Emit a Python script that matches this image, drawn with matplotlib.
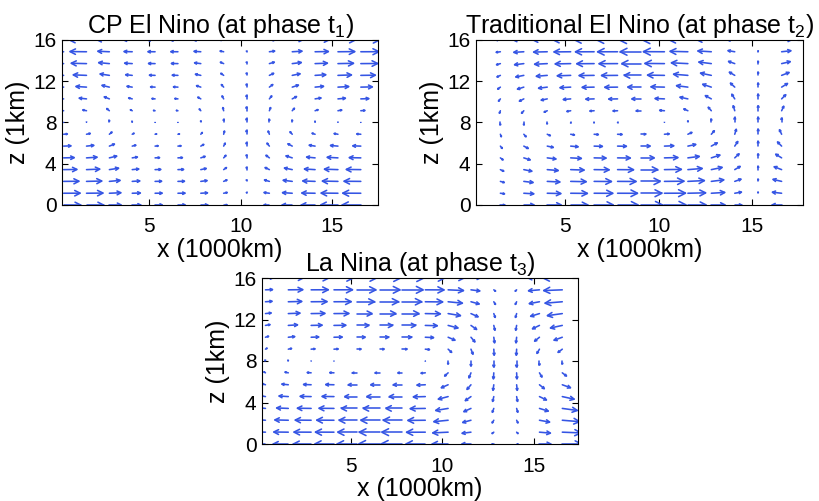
"""
three quiver panels: vertical overturning cells for CP El Nino,
traditional El Nino and La Nina
"""

import numpy as np
import matplotlib
matplotlib.use("Agg")
import matplotlib.pyplot as plt
from matplotlib.collections import LineCollection

plt.rcParams['font.family'] = ['Liberation Sans', 'DejaVu Sans']
plt.rcParams['mathtext.fontset'] = 'custom'
plt.rcParams['mathtext.rm'] = 'Liberation Sans'
plt.rcParams['mathtext.it'] = 'Liberation Sans'

# grid of arrow tails
x_cols = [0.31, 1.56, 2.81, 4.06, 5.31, 6.56, 7.81, 9.06, 10.31, 11.56, 12.81, 14.06, 15.31, 16.56]
z_rows = [0.0, 1.14, 2.29, 3.43, 4.57, 5.71, 6.86, 8.0, 9.14, 10.29, 11.43, 12.57, 13.71, 14.86, 16.0]

# vertical structure (u changes sign at mid level, w peaks there)
u_profile = [1.0, 0.97, 0.9, 0.78, 0.62, 0.43, 0.22, 0.0, -0.22, -0.43, -0.62, -0.78, -0.9, -0.97, -1.0]
w_profile = [0.0, 0.22, 0.43, 0.62, 0.78, 0.9, 0.97, 1.0, 0.97, 0.9, 0.78, 0.62, 0.43, 0.22, 0.0]

# surface u amplitude and mid-level w amplitude for each column
cp_u = [0.93, 0.93, 0.65, 0.46, 0.4, 0.4, 0.38, 0.2, 0.0, -0.3, -0.55, -0.75, -0.95, -1.02]
cp_w = [0.03, 0.08, 0.22, 0.1, 0.03, 0.03, 0.18, 0.32, 0.4, 0.32, 0.25, 0.1, 0.07, 0.03]

trad_u = [0.0, 0.23, 0.55, 0.75, 0.92, 1.03, 1.1, 1.15, 1.16, 0.98, 0.74, 0.37, 0.0, -0.51]
trad_w = [0.0, -0.25, -0.25, -0.14, -0.07, -0.03, -0.02, 0.0, 0.04, 0.18, 0.35, 0.5, 0.52, 0.45]

nina_u = [-0.4, -0.82, -0.97, -1.05, -1.08, -1.15, -1.17, -1.06, -0.87, -0.5, -0.1, 0.08, 0.62, 1.05]
nina_w = [0.1, 0.07, 0.03, 0.02, 0.0, 0.0, 0.0, -0.04, -0.32, -0.5, -0.6, -0.6, -0.42, -0.32]

titles = ['CP El Nino (at phase t$_1$)',
          'Traditional El Nino (at phase t$_2$)',
          'La Nina (at phase t$_3$)']

ARROW = '#3555e4'
W_PX, H_PX = 820, 501


def draw_arrows(ax, col_u, col_w, xlim, ylim=(0, 16)):
    # matlab style open arrows, head size proportional to arrow length
    X, Z = np.meshgrid(x_cols, z_rows)
    U = np.outer(u_profile, col_u)
    W = np.outer(w_profile, col_w)
    pos = ax.get_position()
    sx = pos.width * W_PX / (xlim[1] - xlim[0])
    sz = pos.height * H_PX / (ylim[1] - ylim[0])
    pu, pw = U * sx, W * sz
    alpha, beta = 0.33, 0.5
    tx, tz = X + U, Z + W
    w1x = tx + (-alpha * pu - alpha * beta * pw) / sx
    w1z = tz + (-alpha * pw + alpha * beta * pu) / sz
    w2x = tx + (-alpha * pu + alpha * beta * pw) / sx
    w2z = tz + (-alpha * pw - alpha * beta * pu) / sz
    segs = []
    for i in range(X.shape[0]):
        for j in range(X.shape[1]):
            segs.append([(X[i, j], Z[i, j]), (tx[i, j], tz[i, j])])
            segs.append([(w1x[i, j], w1z[i, j]), (tx[i, j], tz[i, j]), (w2x[i, j], w2z[i, j])])
    lc = LineCollection(segs, colors=ARROW, linewidths=1.15, capstyle='round', joinstyle='miter')
    ax.add_collection(lc)
    ax.set_xlim(*xlim)
    ax.set_ylim(*ylim)


fig = plt.figure(figsize=(W_PX / 100, H_PX / 100), dpi=100)
rects = [[62 / W_PX, 1 - 205 / H_PX, 316 / W_PX, 165 / H_PX],
         [476 / W_PX, 1 - 205 / H_PX, 327 / W_PX, 165 / H_PX],
         [262 / W_PX, 1 - 444 / H_PX, 316 / W_PX, 166 / H_PX]]
limits = [(0.22, 17.5), (0.26, 17.7), (0.12, 17.42)]
fields = [(cp_u, cp_w), (trad_u, trad_w), (nina_u, nina_w)]

for rect, lim, (cu, cw), title in zip(rects, limits, fields, titles):
    ax = fig.add_axes(rect)
    draw_arrows(ax, cu, cw, lim)
    ax.set_xticks([5, 10, 15])
    ax.set_yticks([0, 4, 8, 12, 16])
    ax.tick_params(direction='in', top=True, right=True, length=4, width=0.8,
                   labelsize=15, pad=4)
    ax.tick_params(axis='x', pad=9)
    for s in ax.spines.values():
        s.set_linewidth(0.8)
    ax.set_title(title, fontsize=18, pad=5)
    ax.set_xlabel('x (1000km)', fontsize=18, labelpad=1)
    ax.set_ylabel('z (1km)', fontsize=18, labelpad=2)

fig.savefig('out.png', dpi=100)
